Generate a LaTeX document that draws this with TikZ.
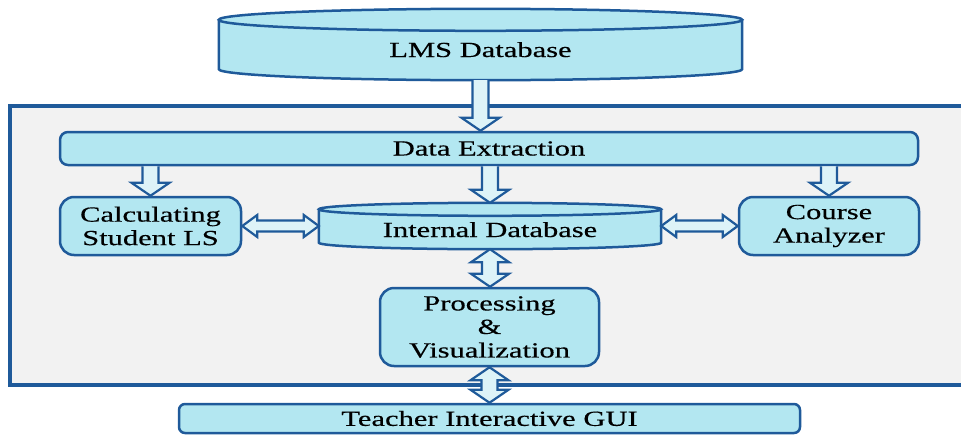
\documentclass[tikz,border=0pt]{standalone}
\usepackage{fontspec}
\setmainfont[FakeStretch=1.42, FakeBold=0.4]{Liberation Serif}
\usetikzlibrary{calc}
\definecolor{edge}{HTML}{1F5A9A}
\definecolor{boxfill}{HTML}{B3E7F1}
\definecolor{arrfill}{HTML}{DDF3F8}
\definecolor{panelfill}{HTML}{F2F2F2}
\pgfdeclarelayer{panellayer}
\pgfdeclarelayer{shapelayer}
\pgfsetlayers{panellayer,shapelayer,main}
\tikzset{
  lbl/.style={font=\fontsize{21.5}{23.5}\selectfont, align=center, inner sep=0pt},
  rbox/.style={lbl, draw=edge, fill=boxfill, line width=2.5pt, rounded corners=#1},
  cylbox/.style={lbl},
  cylline/.style={draw=edge, fill=boxfill, line width=2.5pt},
  barrow/.style={draw=edge, fill=arrfill, line width=2.2pt, line join=miter},
  panelbox/.style={draw=edge, fill=panelfill, line width=3.5pt}
}
\newcommand\cyl[2]{%
  \begin{pgfonlayer}{shapelayer}
  \draw[cylline] let \p1=(#1.north west), \p2=(#1.south east), \p3=(#1.north), \n1={(\x2-\x1)/2} in
    (\x1,\y1-#2) -- (\x1,\y2+#2) arc[start angle=180, end angle=360, x radius=\n1, y radius=#2]
    -- (\x2,\y1-#2) arc[start angle=0, end angle=180, x radius=\n1, y radius=#2] -- cycle
    (\x3,\y1-#2) ellipse[x radius=\n1, y radius=#2];
  \end{pgfonlayer}}
\newcommand\downblk[2]{%
  \draw[barrow] let \p1=#1, \p2=#2 in
    (\x2-8pt,\y1) -- (\x2-8pt,\y2+13pt) -- (\x2-19pt,\y2+13pt) -- (\x2,\y2)
    -- (\x2+19pt,\y2+13pt) -- (\x2+8pt,\y2+13pt) -- (\x2+8pt,\y1);}
\newcommand\vdbl[2]{%
  \draw[barrow] let \p1=#1, \p2=#2 in
    (\x1,\y1) -- (\x1+19pt,\y1-13pt) -- (\x1+8pt,\y1-13pt) -- (\x1+8pt,\y2+13pt)
    -- (\x1+19pt,\y2+13pt) -- (\x1,\y2) -- (\x1-19pt,\y2+13pt) -- (\x1-8pt,\y2+13pt)
    -- (\x1-8pt,\y1-13pt) -- (\x1-19pt,\y1-13pt) -- cycle;}
\newcommand\hdbl[2]{%
  \draw[barrow] let \p1=#1, \p2=#2 in
    (\x1,\y1) -- (\x1+15pt,\y1+11pt) -- (\x1+15pt,\y1+5.5pt) -- (\x2-15pt,\y1+5.5pt)
    -- (\x2-15pt,\y1+11pt) -- (\x2,\y1) -- (\x2-15pt,\y1-11pt) -- (\x2-15pt,\y1-5.5pt)
    -- (\x1+15pt,\y1-5.5pt) -- (\x1+15pt,\y1-11pt) -- cycle;}
\begin{document}
\begin{tikzpicture}[x=1pt, y=-1pt]
\useasboundingbox (0,0) rectangle (961,434);
\begin{pgfonlayer}{panellayer}
\draw[panelbox] (10,106) rectangle (975,385);
\end{pgfonlayer}
% nodes
\node[cylbox, minimum width=523, minimum height=71, text height=25pt, text depth=0pt] (lms) at (480.5,44.5) {LMS Database};
\cyl{lms}{11pt}
\node[rbox=8pt, minimum width=858, minimum height=33] (dex) at (489,148.5) {Data Extraction};
\node[rbox=14pt, minimum width=181, minimum height=58] (calc) at (150.5,226) {Calculating\\Student LS};
\node[cylbox, minimum width=342, minimum height=46, text height=22pt, text depth=0pt] (idb) at (490,226) {Internal Database};
\cyl{idb}{6.5pt}
\node[rbox=14pt, minimum width=180, minimum height=58] (course) at (829,226) {Course\\Analyzer};
\node[rbox=14pt, minimum width=219, minimum height=78] (proc) at (489.5,327) {Processing\\\&\\Visualization};
\node[rbox=6pt, minimum width=621, minimum height=29] (gui) at (489.5,418.5) {Teacher Interactive GUI};
% connectors
\downblk{(lms.south)}{(lms.south |- dex.north)}
\downblk{(calc.north |- dex.south)}{(calc.north)}
\downblk{(idb.north |- dex.south)}{(idb.north)}
\downblk{(course.north |- dex.south)}{(course.north)}
\hdbl{(calc.east)}{(idb.west)}
\hdbl{(idb.east)}{(course.west)}
\vdbl{(idb.south)}{(proc.north)}
\vdbl{(proc.south)}{(gui.north)}
\end{tikzpicture}
\end{document}
